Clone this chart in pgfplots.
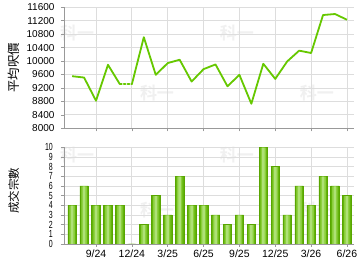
\documentclass[border=0pt]{standalone}
\usepackage{fontspec}
\setmainfont{Liberation Sans}
\newfontfamily\cjk{Noto Sans CJK TC}
\newfontfamily\cjkb{Noto Sans CJK TC Bold}
\newfontfamily\narrow[FakeStretch=0.68]{Liberation Sans}
\usepackage{pgfplots}
\usepackage{pgfplotstable}
\pgfplotsset{compat=1.18}
\definecolor{linegreen}{HTML}{66C800}
\definecolor{bardark}{HTML}{62B40A}
\definecolor{barmid}{HTML}{8ACE3A}
\definecolor{barlight}{HTML}{AEE176}
\definecolor{baredge}{HTML}{58A500}
\definecolor{gridgray}{HTML}{DDDDDD}
\definecolor{axgray}{HTML}{999999}
\definecolor{wm}{HTML}{F0F0F0}
\pgfplotstableread{
x n
0 4
1 6
2 4
3 4
4 4
5 0
6 2
7 5
8 3
9 7
10 4
11 4
12 3
13 2
14 3
15 2
16 10
17 8
18 3
19 6
20 4
21 7
22 6
23 5
}\deals
\begin{document}
\begin{tikzpicture}
\fill[white,use as bounding box] (0pt,0pt) rectangle (360pt,270pt);
% watermarks
\foreach \px/\py in {77/237,157/177,237/237,317/177,77/115,157/60,237/115,317/60}{
  \node[text=wm,font=\cjkb\fontsize{17}{17}\selectfont,inner sep=0] at (\px pt,\py pt) {科一};
}
\pgfplotsset{
  myaxis/.style={
    scale only axis, width=290pt,
    xmin=-0.68, xmax=23.59,
    axis x line*=bottom, axis y line*=left,
    axis line style={axgray,-},
    xtick={2,5,8,11,14,17,20,23},
    grid=major, major grid style={gridgray,line width=0.8pt},
    tick style={axgray,line width=0.6pt},
    tick align=outside,
    scaled y ticks=false,
    /pgf/number format/assume math mode=true,
    /pgf/number format/1000 sep={},
  }
}
\begin{axis}[myaxis,
  at={(64pt,141.7pt)}, anchor=south west, height=121pt,
  ymin=8000, ymax=11600, ytick={8000,8400,...,11600},
  xticklabels={},
  major tick length=3pt,
  yticklabel style={font=\fontsize{10}{10}\selectfont, xshift=-3pt},
  ylabel={平均呎價},
  ylabel style={font=\cjk\fontsize{12.5}{12.5}\selectfont, at={(axis description cs:-0.173,0.5)}, anchor=center},
]
\addplot[linegreen, line width=1.8pt, line join=round] coordinates {
(0,9550) (1,9510) (2,8820) (3,9890) (4,9310)};
\addplot[linegreen, line width=1.8pt, dotted, line cap=round] coordinates {
(4,9310) (5,9310)};
\addplot[linegreen, line width=1.8pt, line join=round] coordinates {
(5,9310) (6,10710) (7,9590) (8,9940) (9,10040) (10,9390) (11,9760) (12,9900)
(13,9250) (14,9590) (15,8730) (16,9920) (17,9470) (18,9990) (19,10310)
(20,10240) (21,11370) (22,11400) (23,11230)};
\end{axis}
\begin{axis}[myaxis,
  at={(64pt,26pt)}, anchor=south west, height=96.7pt,
  ymin=0, ymax=10, ytick={0,1,...,10},
  xticklabels={9/24,12/24,3/25,6/25,9/25,12/25,3/26,6/26},
  xticklabel style={font=\fontsize{10.5}{10.5}\selectfont, yshift=1pt},
  major tick length=3pt,
  yticklabel style={font=\narrow\fontsize{10.3}{9}\selectfont, xshift=-7pt, inner sep=1pt},
  ylabel={成交宗數},
  ylabel style={font=\cjk\fontsize{11.5}{11.5}\selectfont, at={(axis description cs:-0.173,0.55)}, anchor=center},
]
\addplot[ybar, bar shift=0pt, bar width=8.5pt, draw=baredge, line width=0.6pt, fill=bardark] table[x=x,y=n] {\deals};
\addplot[ybar, bar shift=0pt, bar width=5.5pt, draw=none, fill=barmid] table[x=x,y expr=\thisrow{n}-0.04] {\deals};
\addplot[ybar, bar shift=0pt, bar width=2.5pt, draw=none, fill=barlight] table[x=x,y expr=\thisrow{n}-0.04] {\deals};
\end{axis}
\end{tikzpicture}
\end{document}
